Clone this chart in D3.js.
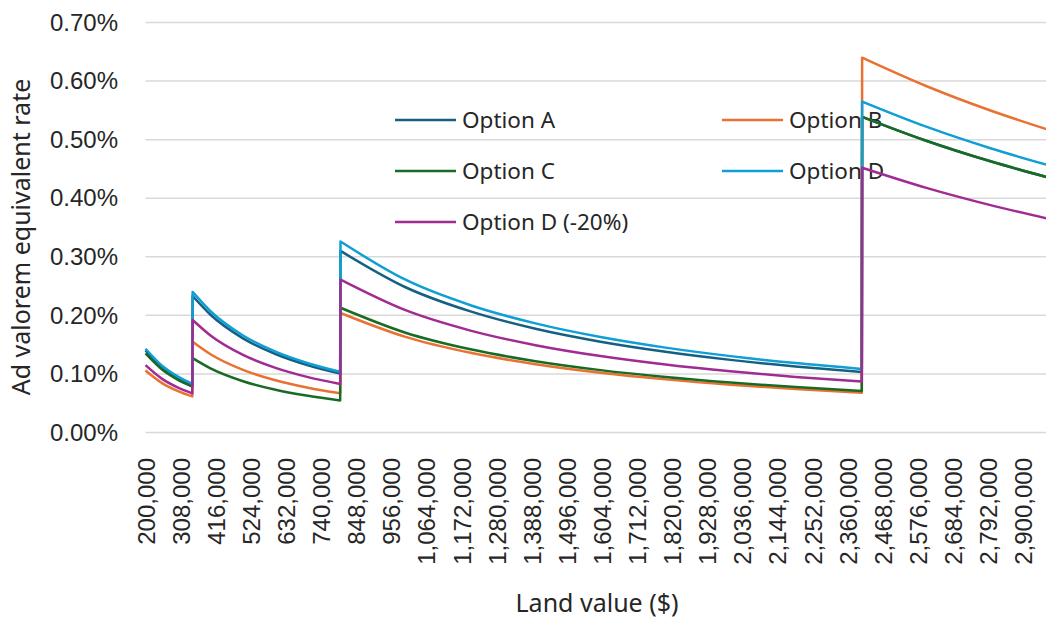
<!DOCTYPE html>
<html lang="en">
  <head>
    <meta charset="utf-8">
    <title>Ad valorem equivalent rate</title>
    <script type="text/javascript" src="https://cdn.jsdelivr.net/npm/d3@7"></script>
    <style>
      body { margin: 0; background: #fff; }
      .tick-label { font-family: "Liberation Sans", Arial, sans-serif; font-size: 24px; fill: #262626; }
      .title { font-family: "Noto Sans", sans-serif; font-size: 25px; fill: #262626; }
      .legend text { font-family: "Noto Sans", sans-serif; font-size: 22.5px; fill: #262626; }
    </style>
  </head>
  <body>
    <script type="text/javascript">
    var seg1 = [200000, 250000, 300000, 344000];
    var seg2 = [345000, 400000, 500000, 600000, 700000, 799000];
    var seg3 = [800000, 1000000, 1200000, 1400000, 1600000, 1800000, 2000000, 2200000, 2404000];
    var seg4 = [2405000, 2600000, 2800000, 3000000];

    // rates in percent, one list per piece
    var optionA = [
      [0.140, 0.112, 0.0933, 0.0814],
      [0.233, 0.201, 0.1608, 0.134, 0.1148, 0.1006],
      [0.310, 0.248, 0.2067, 0.1771, 0.155, 0.1378, 0.124, 0.1127, 0.1032],
      [0.539, 0.4986, 0.463, 0.4321]
    ];
    var optionB = [
      [0.106, 0.0848, 0.0707, 0.0616],
      [0.155, 0.1337, 0.107, 0.0891, 0.0764, 0.0669],
      [0.204, 0.1632, 0.136, 0.1166, 0.102, 0.0907, 0.0816, 0.0742, 0.0679],
      [0.640, 0.592, 0.5497, 0.513]
    ];
    var optionC = [
      [0.135, 0.108, 0.090, 0.0785],
      [0.127, 0.1095, 0.0876, 0.073, 0.0626, 0.0548],
      [0.213, 0.1704, 0.142, 0.1217, 0.1065, 0.0947, 0.0852, 0.0775, 0.0709],
      [0.539, 0.4986, 0.463, 0.4321]
    ];
    var optionD = [
      [0.143, 0.1144, 0.0953, 0.0831],
      [0.240, 0.207, 0.1656, 0.138, 0.1183, 0.1036],
      [0.326, 0.2608, 0.2173, 0.1863, 0.163, 0.1449, 0.1304, 0.1185, 0.1085],
      [0.565, 0.5226, 0.4853, 0.4529]
    ];
    var optionD20 = [
      [0.115, 0.092, 0.0767, 0.0669],
      [0.192, 0.1656, 0.1325, 0.1104, 0.0946, 0.0829],
      [0.261, 0.2088, 0.174, 0.1491, 0.1305, 0.116, 0.1044, 0.0949, 0.0869],
      [0.452, 0.4181, 0.3882, 0.3623]
    ];

    var segments = [seg1, seg2, seg3, seg4];
    var seriesNames = ["Option A", "Option B", "Option C", "Option D", "Option D (-20%)"];
    var seriesColors = ["#156082", "#E97132", "#196B24", "#0F9ED5", "#A02B93"];
    var seriesValues = [optionA, optionB, optionC, optionD, optionD20];

    var yTicks = [0, 0.1, 0.2, 0.3, 0.4, 0.5, 0.6, 0.7];
    var xTicks = d3.range(0, 26).map(function(i) { return 200000 + i * 108000; });

    var w = 1046;
    var h = 618;

    var svg = d3.select("body")
                .append("svg")
                .attr("width", w)
                .attr("height", h);

    var xScale = d3.scaleLinear()
                   .domain([200000, 3000000])
                   .range([145.5, 1055.5]);
    var yScale = d3.scaleLinear()
                   .domain([0, 0.7])
                   .range([432.5, 22.5]);

    // gridlines
    svg.append("g")
       .selectAll("line")
       .data(yTicks)
       .enter()
       .append("line")
       .attr("x1", xScale(200000))
       .attr("x2", w)
       .attr("y1", function(d) { return yScale(d); })
       .attr("y2", function(d) { return yScale(d); })
       .attr("stroke", "#d9d9d9")
       .attr("stroke-width", 1.5);

    // y axis labels
    var yAxis = d3.axisLeft(yScale)
                  .tickValues(yTicks)
                  .tickSize(0)
                  .tickPadding(0)
                  .tickFormat(function(d) { return d.toFixed(2) + "%"; });
    var gy = svg.append("g")
                .attr("transform", "translate(118, 0)")
                .call(yAxis);
    gy.select(".domain").remove();
    gy.selectAll("text").attr("class", "tick-label").attr("font-size", null).attr("font-family", null);

    // x axis labels, rotated
    var xAxis = d3.axisBottom(xScale)
                  .tickValues(xTicks)
                  .tickSize(0)
                  .tickFormat(d3.format(","));
    var gx = svg.append("g")
                .attr("transform", "translate(0, 458)")
                .call(xAxis);
    gx.select(".domain").remove();
    gx.selectAll("text")
      .attr("class", "tick-label")
      .attr("font-size", null)
      .attr("font-family", null)
      .attr("y", 0)
      .attr("dy", "0.36em")
      .attr("transform", "rotate(-90)")
      .attr("text-anchor", "end");

    // axis titles
    svg.append("text")
       .attr("class", "title")
       .attr("x", 597)
       .attr("y", 612)
       .attr("text-anchor", "middle")
       .text("Land value ($)");

    svg.append("text")
       .attr("class", "title")
       .attr("transform", "translate(30, 237) rotate(-90)")
       .attr("text-anchor", "middle")
       .text("Ad valorem equivalent rate");

    // legend
    var legendPos = [[395, 120], [722, 120], [395, 171], [722, 171], [395, 222]];
    var legend = svg.append("g").attr("class", "legend");
    seriesNames.forEach(function(name, i) {
      var p = legendPos[i];
      legend.append("line")
            .attr("x1", p[0]).attr("x2", p[0] + 61)
            .attr("y1", p[1]).attr("y2", p[1])
            .attr("stroke", seriesColors[i])
            .attr("stroke-width", 2.5);
      legend.append("text")
            .attr("x", p[0] + 67)
            .attr("y", p[1])
            .attr("dy", "0.35em")
            .text(name);
    });

    // lines: each piece is a smooth curve, pieces joined by the vertical jumps
    var lineGen = d3.line()
                    .x(function(d) { return xScale(d[0]); })
                    .y(function(d) { return yScale(d[1]); })
                    .curve(d3.curveMonotoneX);

    var plot = svg.append("g");
    seriesValues.forEach(function(vals, i) {
      var d = segments.map(function(xs, s) {
        var pts = xs.map(function(x, k) { return [x, vals[s][k]]; });
        var part = lineGen(pts);
        return s === 0 ? part : "L" + part.slice(1);
      }).join("");
      plot.append("path")
          .attr("d", d)
          .attr("fill", "none")
          .attr("stroke", seriesColors[i])
          .attr("stroke-width", 2.5)
          .attr("stroke-linejoin", "round");
    });
    </script>
  </body>
</html>
